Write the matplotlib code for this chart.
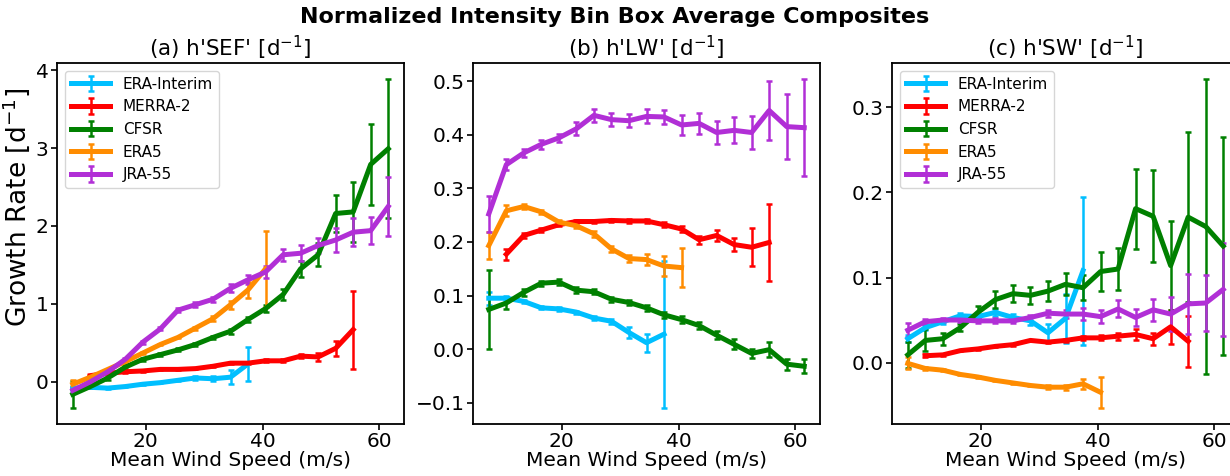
import numpy as np
import matplotlib
matplotlib.use("Agg")
import matplotlib.pyplot as plt

# Wind speed bin centers (m/s)
wind = [7.5, 10.5, 13.5, 16.5, 19.5, 22.5, 25.5, 28.5, 31.5, 34.5,
        37.5, 40.5, 43.5, 46.5, 49.5, 52.5, 55.5, 58.5, 61.5]

names = ["ERA-Interim", "MERRA-2", "CFSR", "ERA5", "JRA-55"]
colors = ["#00BFFF", "#FF0000", "#008000", "#FF8C00", "#B12FD6"]

# ---------------- (a) h'SEF' ----------------
sef_erai = [-0.08, -0.07, -0.08, -0.06, -0.03, -0.01, 0.02, 0.05, 0.04, 0.06, 0.23]
sef_erai_err = [0.02, 0.01, 0.01, 0.01, 0.01, 0.01, 0.01, 0.02, 0.03, 0.09, 0.22]
sef_merra = [0.08, 0.11, 0.13, 0.14, 0.16, 0.16, 0.17, 0.20, 0.24, 0.24, 0.27, 0.27, 0.33, 0.32, 0.43, 0.67]
sef_merra_err = [0.01, 0.01, 0.01, 0.01, 0.01, 0.01, 0.01, 0.01, 0.01, 0.01, 0.02, 0.02, 0.03, 0.05, 0.10, 0.50]
sef_cfsr = [-0.16, -0.06, 0.05, 0.19, 0.29, 0.35, 0.41, 0.48, 0.57, 0.65, 0.80, 0.94, 1.12, 1.45, 1.63, 2.16, 2.18, 2.79, 2.99]
sef_cfsr_err = [0.17, 0.02, 0.02, 0.02, 0.02, 0.02, 0.02, 0.02, 0.02, 0.03, 0.03, 0.05, 0.07, 0.10, 0.15, 0.24, 0.39, 0.52, 0.89]
sef_era5 = [-0.03, 0.06, 0.16, 0.26, 0.37, 0.48, 0.57, 0.69, 0.81, 0.99, 1.18, 1.45]
sef_era5_err = [0.05, 0.01, 0.01, 0.01, 0.01, 0.01, 0.01, 0.02, 0.03, 0.05, 0.10, 0.49]
sef_jra = [-0.11, 0.00, 0.13, 0.29, 0.51, 0.68, 0.92, 0.99, 1.06, 1.20, 1.31, 1.41, 1.63, 1.65, 1.75, 1.82, 1.92, 1.94, 2.25]
sef_jra_err = [0.03, 0.01, 0.01, 0.01, 0.02, 0.02, 0.03, 0.03, 0.03, 0.05, 0.06, 0.08, 0.08, 0.10, 0.10, 0.15, 0.18, 0.17, 0.38]

# ---------------- (b) h'LW' ----------------
lw_erai = [0.095, 0.095, 0.089, 0.077, 0.075, 0.069, 0.058, 0.052, 0.031, 0.012, 0.028]
lw_erai_err = [0.012, 0.004, 0.003, 0.003, 0.003, 0.003, 0.004, 0.005, 0.010, 0.017, 0.137]
lw_merra = [0.177, 0.212, 0.222, 0.232, 0.238, 0.238, 0.240, 0.239, 0.239, 0.232, 0.224, 0.204, 0.212, 0.195, 0.190, 0.199]
lw_merra_err = [0.010, 0.005, 0.004, 0.003, 0.003, 0.003, 0.003, 0.003, 0.004, 0.005, 0.006, 0.007, 0.010, 0.012, 0.035, 0.072]
lw_cfsr = [0.074, 0.086, 0.106, 0.123, 0.125, 0.110, 0.107, 0.093, 0.087, 0.077, 0.064, 0.055, 0.044, 0.026, 0.009, -0.008, -0.001, -0.028, -0.032]
lw_cfsr_err = [0.073, 0.012, 0.006, 0.005, 0.005, 0.005, 0.005, 0.005, 0.005, 0.005, 0.006, 0.006, 0.007, 0.008, 0.009, 0.009, 0.014, 0.010, 0.013]
lw_era5 = [0.193, 0.258, 0.266, 0.256, 0.237, 0.230, 0.215, 0.187, 0.169, 0.167, 0.155, 0.152]
lw_era5_err = [0.025, 0.010, 0.005, 0.004, 0.004, 0.004, 0.005, 0.006, 0.007, 0.010, 0.018, 0.036]
lw_jra = [0.252, 0.344, 0.366, 0.382, 0.394, 0.411, 0.436, 0.428, 0.426, 0.434, 0.433, 0.418, 0.421, 0.404, 0.408, 0.404, 0.445, 0.415, 0.413]
lw_jra_err = [0.034, 0.010, 0.008, 0.008, 0.008, 0.012, 0.012, 0.012, 0.012, 0.013, 0.013, 0.018, 0.020, 0.022, 0.024, 0.030, 0.055, 0.060, 0.090]

# ---------------- (c) h'SW' ----------------
sw_erai = [0.028, 0.041, 0.048, 0.055, 0.054, 0.059, 0.053, 0.049, 0.035, 0.052, 0.108]
sw_erai_err = [0.004, 0.003, 0.003, 0.003, 0.003, 0.004, 0.004, 0.005, 0.010, 0.029, 0.087]
sw_merra = [0.008, 0.009, 0.014, 0.016, 0.019, 0.021, 0.026, 0.024, 0.026, 0.029, 0.029, 0.031, 0.033, 0.028, 0.042, 0.025]
sw_merra_err = [0.002, 0.001, 0.001, 0.001, 0.001, 0.001, 0.001, 0.001, 0.002, 0.002, 0.003, 0.004, 0.006, 0.007, 0.020, 0.030]
sw_cfsr = [0.009, 0.026, 0.028, 0.041, 0.059, 0.074, 0.081, 0.079, 0.084, 0.092, 0.088, 0.107, 0.110, 0.181, 0.172, 0.114, 0.171, 0.160, 0.137]
sw_cfsr_err = [0.015, 0.013, 0.007, 0.004, 0.008, 0.010, 0.010, 0.010, 0.012, 0.013, 0.015, 0.023, 0.025, 0.047, 0.054, 0.052, 0.100, 0.173, 0.128]
sw_era5 = [-0.001, -0.007, -0.009, -0.014, -0.017, -0.021, -0.024, -0.027, -0.029, -0.029, -0.025, -0.035]
sw_era5_err = [0.007, 0.002, 0.001, 0.001, 0.001, 0.001, 0.001, 0.001, 0.002, 0.003, 0.006, 0.018]
sw_jra = [0.038, 0.048, 0.050, 0.050, 0.049, 0.049, 0.049, 0.053, 0.058, 0.057, 0.057, 0.054, 0.063, 0.053, 0.062, 0.057, 0.069, 0.070, 0.086]
sw_jra_err = [0.008, 0.003, 0.002, 0.002, 0.003, 0.003, 0.003, 0.003, 0.004, 0.005, 0.007, 0.008, 0.010, 0.010, 0.013, 0.020, 0.035, 0.033, 0.055]

# starting bin index for each reanalysis
starts = [0, 1, 0, 0, 0]

panels = [
    ("(a) h'SEF' [d$^{-1}$]",
     [sef_erai, sef_merra, sef_cfsr, sef_era5, sef_jra],
     [sef_erai_err, sef_merra_err, sef_cfsr_err, sef_era5_err, sef_jra_err], True),
    ("(b) h'LW' [d$^{-1}$]",
     [lw_erai, lw_merra, lw_cfsr, lw_era5, lw_jra],
     [lw_erai_err, lw_merra_err, lw_cfsr_err, lw_era5_err, lw_jra_err], False),
    ("(c) h'SW' [d$^{-1}$]",
     [sw_erai, sw_merra, sw_cfsr, sw_era5, sw_jra],
     [sw_erai_err, sw_merra_err, sw_cfsr_err, sw_era5_err, sw_jra_err], True),
]

W, H = 1230, 476
fig = plt.figure(figsize=(W / 100, H / 100), dpi=100)

lefts = [57, 473, 892]
aw = 347
bottom = 52
ah = 361

for i, (title, series, errs, show_leg) in enumerate(panels):
    ax = fig.add_axes([lefts[i] / W, bottom / H, aw / W, ah / H])
    for k in range(5):
        y = series[k]
        s = starts[k]
        x = wind[s:s + len(y)]
        ax.errorbar(x, y, yerr=errs[k], color=colors[k], lw=3.6,
                    elinewidth=1.8, capsize=2.4, capthick=1.8, label=names[k])
    ax.set_title(title, fontsize=15.5, pad=5)
    ax.set_xlabel("Mean Wind Speed (m/s)", fontsize=14.5, labelpad=0)
    ax.tick_params(labelsize=14.5, width=1.2, length=4, pad=2)
    for sp in ax.spines.values():
        sp.set_linewidth(1.3)
    ax.set_xticks([20, 40, 60])
    if i == 0:
        ax.set_ylabel("Growth Rate [d$^{-1}$]", fontsize=19)
        ax.yaxis.set_label_coords(-0.072, 0.6)
        ax.set_yticks([0, 1, 2, 3, 4])
    elif i == 1:
        ax.set_yticks([-0.1, 0.0, 0.1, 0.2, 0.3, 0.4, 0.5])
    else:
        ax.set_yticks([0.0, 0.1, 0.2, 0.3])
    if show_leg:
        ax.legend(loc="upper left", fontsize=11, handlelength=2.6,
                  labelspacing=0.5)

fig.suptitle("Normalized Intensity Bin Box Average Composites",
             fontsize=16, fontweight="bold", y=0.985)

fig.savefig("out.png", dpi=100)
